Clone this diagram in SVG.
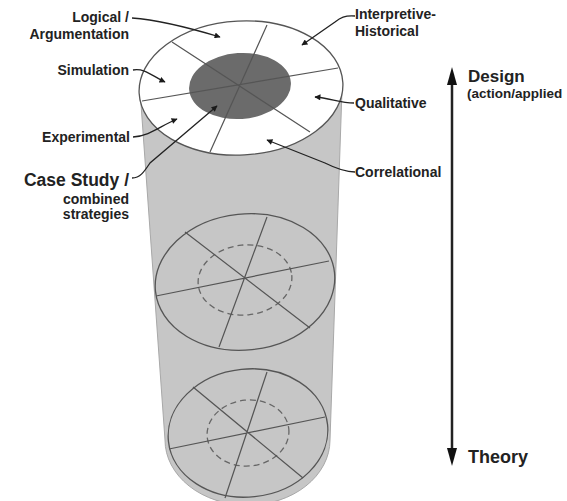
<svg xmlns="http://www.w3.org/2000/svg" width="567" height="501" viewBox="0 0 567 501">
<defs>
<marker id="dot" viewBox="0 0 10 10" refX="9" refY="5" markerWidth="7" markerHeight="6" orient="auto" markerUnits="userSpaceOnUse">
<path d="M0,0 L10,5 L0,10 Z" fill="#1a1a1a"/>
</marker>
<style>
.lbl{font-family:"Liberation Sans",Arial,sans-serif;font-weight:bold;font-size:14px;fill:#222}
.big{font-size:17.5px}
.sp{stroke:#555;stroke-width:1.2;fill:none}
.el{stroke:#555;stroke-width:1.3}
.dash{stroke:#666;stroke-width:1.3;fill:none;stroke-dasharray:6 4}
.lead{stroke:#222;stroke-width:1.3;fill:none;marker-end:url(#dot)}
</style>
</defs>
<rect width="567" height="501" fill="#fff"/>
<g id="cylinder">
<path d="M140,90 L165,440 A81,64 0 0 0 330,440 L342,90 Z" fill="#c6c6c6" stroke="#a8a8a8" stroke-width="1"/>
</g>
<g id="top-disc">
<ellipse cx="241" cy="88" rx="102" ry="67" transform="rotate(-3 241 88)" fill="#fff" class="el"/>
<ellipse cx="240" cy="86" rx="51" ry="33" transform="rotate(-4 240 86)" fill="#6b6b6b"/>
<path class="sp" d="M267,25 L210,152 M172,42 L310,132 M142,101 L338,68"/>
</g>
<g id="middle-disc">
<ellipse cx="245" cy="282" rx="90" ry="68" transform="rotate(-6 245 282)" fill="none" class="el"/>
<ellipse cx="245" cy="280" rx="47" ry="35" transform="rotate(-6 245 280)" class="dash"/>
<path class="sp" d="M185,232 L310,328 M267,217 L219,347 M156,296 L329,261"/>
</g>
<g id="bottom-disc">
<ellipse cx="248" cy="433" rx="80" ry="64" transform="rotate(-6 248 433)" fill="none" class="el"/>
<ellipse cx="248" cy="433" rx="41" ry="33" transform="rotate(-6 248 433)" class="dash"/>
<path class="sp" d="M193,387 L303,478 M267,372 L225,498 M169,449 L325,417"/>
</g>
<g id="axis">
<line x1="452" y1="80" x2="452" y2="452" stroke="#222" stroke-width="2.5"/>
<path d="M452,67 L457,85 L447,85 Z" fill="#111"/>
<path d="M452,466 L457,448 L447,448 Z" fill="#111"/>
<text class="lbl" x="468" y="82" style="font-size:17px">Design</text>
<text class="lbl" x="467" y="98" style="font-size:13.5px">(action/applied</text>
<text class="lbl" x="468" y="463" style="font-size:18px">Theory</text>
</g>
<g id="connectors">
<path class="lead" d="M132,18 C160,20 190,28 220,37"/>
<path class="lead" d="M355,16 C345,15 340,18 335,22 L302,45"/>
<path class="lead" d="M133,70 C145,68 152,76 165,82"/>
<path class="lead" d="M354,103 C340,103 330,98 315,97"/>
<path class="lead" d="M133,137 C150,136 160,126 177,119"/>
<path class="lead" d="M132,178 C140,178 144,172 150,163 L217,106"/>
<path class="lead" d="M355,172 C345,172 335,168 325,163 L267,140"/>
</g>
<g id="labels">
<g id="logical"><text class="lbl" x="129" y="22" text-anchor="end">Logical /</text><text class="lbl" x="129" y="39" text-anchor="end">Argumentation</text></g>
<g id="simulation"><text class="lbl" x="129" y="75" text-anchor="end">Simulation</text></g>
<g id="experimental"><text class="lbl" x="130" y="142" text-anchor="end">Experimental</text></g>
<g id="casestudy"><text class="lbl big" x="129" y="186" text-anchor="end">Case Study /</text><text class="lbl" x="129" y="204" text-anchor="end">combined</text><text class="lbl" x="129" y="219" text-anchor="end">strategies</text></g>
<g id="interpretive"><text class="lbl" x="355" y="19">Interpretive-</text><text class="lbl" x="355" y="36">Historical</text></g>
<g id="qualitative"><text class="lbl" x="355" y="108">Qualitative</text></g>
<g id="correlational"><text class="lbl" x="355" y="177">Correlational</text></g>
</g>
</svg>
